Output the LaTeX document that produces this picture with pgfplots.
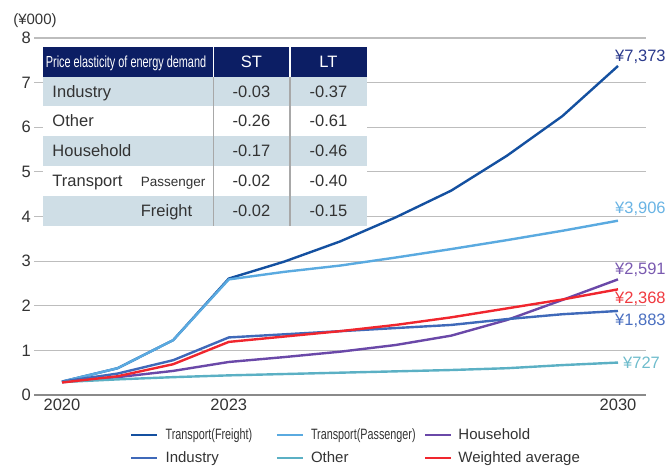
\documentclass[border=0pt]{standalone}
\usepackage{fontspec}
\setmainfont{Liberation Sans}
\usepackage{graphicx}
\usepackage{pgfplots}
\usepackage{pgfplotstable}
\pgfplotsset{compat=1.18}

\definecolor{cFreight}{HTML}{1450A0}
\definecolor{cPass}{HTML}{5AAAE0}
\definecolor{cHouse}{HTML}{6A48A8}
\definecolor{cInd}{HTML}{3F69B9}
\definecolor{cOther}{HTML}{5BB0C4}
\definecolor{cAvg}{HTML}{F0262E}
\definecolor{lFreight}{HTML}{2B3A8C}
\definecolor{lPass}{HTML}{6AB4E4}
\definecolor{lHouse}{HTML}{7A5AB0}
\definecolor{lInd}{HTML}{4A6FC0}
\definecolor{lOther}{HTML}{6EBCCC}
\definecolor{lAvg}{HTML}{F03A40}
\definecolor{headblue}{HTML}{0C1E64}
\definecolor{rowblue}{HTML}{CFDEE6}
\definecolor{sepgray}{HTML}{A8A8A8}
\definecolor{gridgray}{HTML}{BDBDBD}
\definecolor{axisgray}{HTML}{8A8A8A}
\definecolor{txt}{HTML}{333333}

\newcommand{\cond}[1]{\scalebox{0.72}[1]{#1}}
\newcommand{\fs}[1]{\fontsize{#1bp}{#1bp}\selectfont}

\pgfplotstableread{
year freight passenger household industry other weighted
2020 0.30 0.30 0.29 0.30 0.29 0.28
2021 0.60 0.60 0.40 0.48 0.35 0.42
2022 1.23 1.23 0.54 0.78 0.40 0.69
2023 2.61 2.59 0.74 1.29 0.44 1.19
2024 2.99 2.76 0.85 1.36 0.47 1.31
2025 3.44 2.90 0.97 1.43 0.50 1.43
2026 3.98 3.08 1.12 1.50 0.53 1.57
2027 4.58 3.27 1.33 1.57 0.56 1.74
2028 5.36 3.47 1.68 1.70 0.60 1.94
2029 6.25 3.68 2.13 1.81 0.67 2.14
2030 7.373 3.906 2.591 1.883 0.727 2.368
}\datatable

\begin{document}
\begin{tikzpicture}
\useasboundingbox (0,0) rectangle (672bp,469bp);
\begin{axis}[
  at={(34.2bp,74bp)}, anchor=south west,
  scale only axis, width=611.6bp, height=357bp,
  xmin=2019.5, xmax=2030.5, ymin=0, ymax=8,
  axis lines*=left,
  y axis line style={draw=none},
  x axis line style={draw=axisgray, line width=1.4bp},
  major tick length=0pt,
  xtick={2020,2023,2030}, xticklabels={2020,2023,2030},
  ytick={0,1,...,8},
  ymajorgrids, grid style={gridgray, line width=1.2bp},
  /pgf/number format/assume math mode=true,
  ticklabel style={font=\fs{16.5}, text=txt},
  clip=false,
  legend columns=3,
  legend cell align=left,
  legend style={at={(axis description cs:0.1567,-0.0924)}, anchor=north west,
    draw=none, fill=none, inner sep=0pt, column sep=0pt, row sep=9bp,
    nodes={inner sep=0pt, text height=11bp, text depth=3bp, font=\fs{15}, text=txt}},
  legend image code/.code={\draw[#1, line width=2.4bp] (0bp,0bp) -- (26bp,0bp);},
  every axis plot/.append style={line width=2.4bp, line join=round},
]
\addplot[cFreight] table[x=year,y=freight]{\datatable};
\addlegendentry{\hspace*{7bp}\makebox[110bp][l]{\cond{Transport(Freight)}}}
\addplot[cPass] table[x=year,y=passenger]{\datatable};
\addlegendentry{\hspace*{7bp}\makebox[113bp][l]{\cond{Transport(Passenger)}}}
\addplot[cHouse] table[x=year,y=household]{\datatable};
\addlegendentry{\hspace*{6bp}Household}
\addplot[cInd] table[x=year,y=industry]{\datatable};
\addlegendentry{\hspace*{7bp}\makebox[110bp][l]{Industry}}
\addplot[cOther] table[x=year,y=other]{\datatable};
\addlegendentry{\hspace*{7bp}\makebox[113bp][l]{Other}}
\addplot[cAvg] table[x=year,y=weighted]{\datatable};
\addlegendentry{\hspace*{6bp}Weighted average}

\node[anchor=west, inner sep=0pt, font=\fs{16.5}, text=lFreight, xshift=-3bp] at (axis cs:2030,7.574) {¥7,373};
\node[anchor=west, inner sep=0pt, font=\fs{16.5}, text=lPass, xshift=-3bp] at (axis cs:2030,4.168) {¥3,906};
\node[anchor=west, inner sep=0pt, font=\fs{16.5}, text=lHouse, xshift=-3bp] at (axis cs:2030,2.80) {¥2,591};
\node[anchor=west, inner sep=0pt, font=\fs{16.5}, text=lAvg, xshift=-3bp] at (axis cs:2030,2.151) {¥2,368};
\node[anchor=west, inner sep=0pt, font=\fs{16.5}, text=lInd, xshift=-3bp] at (axis cs:2030,1.665) {¥1,883};
\node[anchor=west, inner sep=0pt, font=\fs{16.5}, text=lOther, xshift=5bp] at (axis cs:2030,0.724) {¥727};
\end{axis}

\begin{scope}[x=1bp, y=-1bp, shift={(0bp,469bp)}]
  \node[anchor=base, inner sep=0pt, font=\fs{15}, text=txt] at (35,25) {(¥000)};
  % table
  \fill[rowblue] (43.3,76.7) rectangle (367,106);
  \fill[white] (43.3,106) rectangle (367,136);
  \fill[rowblue] (43.3,136) rectangle (367,165.7);
  \fill[white] (43.3,165.7) rectangle (367,196);
  \fill[rowblue] (43.3,196) rectangle (367,226);
  \fill[headblue] (43.3,47) rectangle (367,76.7);
  \draw[white, line width=1.5bp] (213.3,47) -- (213.3,76.7) (290,47) -- (290,76.7);
  \draw[sepgray, line width=1.2bp] (213.3,76.7) -- (213.3,226) (290,76.7) -- (290,226);
  \begin{scope}[every node/.style={inner sep=0pt, font=\fs{16.5}, text=txt}]
    \node[anchor=base, text=white, font=\fs{16}] at (126,68) {\scalebox{0.68}[1]{Price elasticity of energy demand}};
    \node[anchor=base, text=white] at (251.5,68) {ST};
    \node[anchor=base, text=white] at (328.5,68) {LT};
    \node[anchor=base west] at (52.3,97.3) {Industry};
    \node[anchor=base west] at (52.3,127) {Other};
    \node[anchor=base west] at (52.3,157) {Household};
    \node[anchor=base west] at (52.3,187) {Transport};
    \node[anchor=base west, font=\fs{13.5}] at (140.7,187) {Passenger};
    \node[anchor=base west] at (140.7,217) {Freight};
    \node[anchor=base] at (251.5,97.3) {-0.03};
    \node[anchor=base] at (328.5,97.3) {-0.37};
    \node[anchor=base] at (251.5,127) {-0.26};
    \node[anchor=base] at (328.5,127) {-0.61};
    \node[anchor=base] at (251.5,157) {-0.17};
    \node[anchor=base] at (328.5,157) {-0.46};
    \node[anchor=base] at (251.5,187) {-0.02};
    \node[anchor=base] at (328.5,187) {-0.40};
    \node[anchor=base] at (251.5,217) {-0.02};
    \node[anchor=base] at (328.5,217) {-0.15};
  \end{scope}
\end{scope}
\end{tikzpicture}
\end{document}
